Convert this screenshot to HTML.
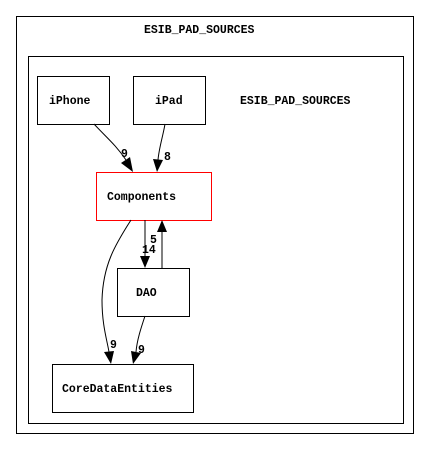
<!DOCTYPE html>
<html><head><meta charset="utf-8"><style>
html,body{margin:0;padding:0;background:#fff;width:429px;height:460px;overflow:hidden}
text{font-family:"Liberation Mono",monospace;font-weight:bold;font-size:11.5px;fill:#000}
</style></head><body>
<svg width="429" height="460" viewBox="0 0 429 460" xmlns="http://www.w3.org/2000/svg">
<rect x="16.5" y="16.5" width="397" height="417" fill="none" stroke="#000"/>
<text x="144" y="33">ESIB_PAD_SOURCES</text>
<rect x="28.5" y="56.5" width="375" height="367" fill="none" stroke="#000"/>
<text x="240" y="104">ESIB_PAD_SOURCES</text>
<rect x="37.5" y="76.5" width="72" height="48" fill="none" stroke="#000"/>
<text x="49" y="104">iPhone</text>
<rect x="133.5" y="76.5" width="72" height="48" fill="none" stroke="#000"/>
<text x="155" y="104">iPad</text>
<rect x="96.5" y="172.5" width="115" height="48" fill="none" stroke="#f00"/>
<text x="107" y="200">Components</text>
<rect x="117.5" y="268.5" width="72" height="48" fill="none" stroke="#000"/>
<text x="136" y="296">DAO</text>
<rect x="52.5" y="364.5" width="141" height="48" fill="none" stroke="#000"/>
<text x="62" y="392">CoreDataEntities</text>
<g fill="none" stroke="#000">
<path d="M94,124 C105,136 116,145 126,160"/>
<path d="M165,124 C163,136 159,148 158,160"/>
<path d="M145,220 L145,256"/>
<path d="M162,268 L162,232"/>
<path d="M131,220 C115,245 103,265 102,300 C102,325 107,340 109,352"/>
<path d="M145,316 C141,328 137,340 136,352"/>
</g>
<g fill="#000">
<polygon points="121,163 130,157 133,172"/>
<polygon points="153,159 163,160 157,172"/>
<polygon points="140,256 150,256 145,268"/>
<polygon points="157,232 167,232 162,220"/>
<polygon points="104,352 114,351 111,364"/>
<polygon points="131,351 141,353 133,364"/>
</g>
<text x="121" y="157">9</text>
<text x="164" y="160">8</text>
<text x="150" y="243">5</text>
<text x="142" y="253">14</text>
<text x="110" y="348">9</text>
<text x="138" y="353">9</text>
</svg>
</body></html>
